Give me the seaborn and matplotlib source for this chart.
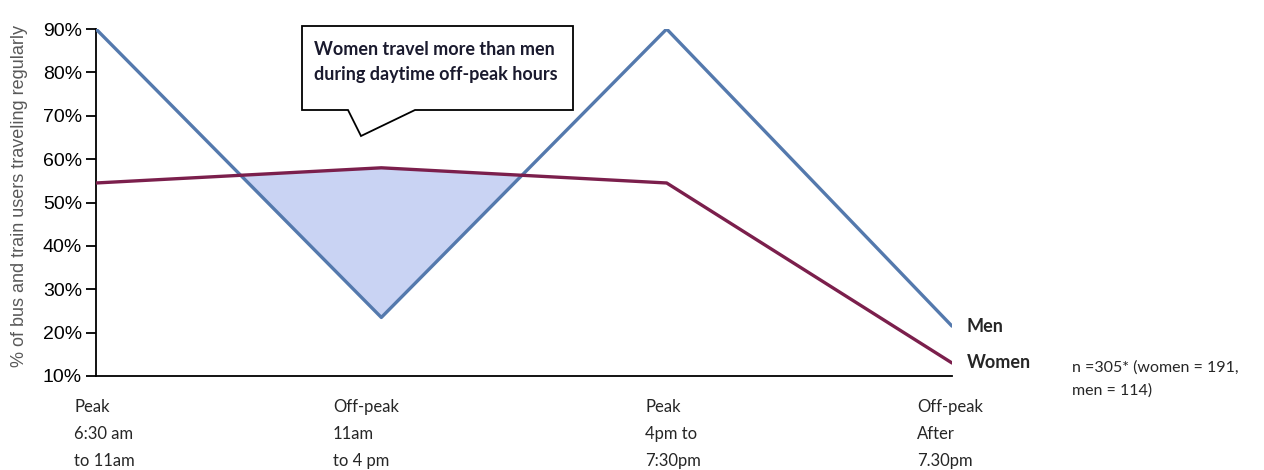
import matplotlib
matplotlib.use("Agg")
import matplotlib.pyplot as plt
import seaborn as sns
import numpy as np
import pandas as pd
from matplotlib.patches import Polygon

# ---- data ----
categories = ["Peak\n6:30 am\nto 11am", "Off-peak\n11am\nto 4 pm",
              "Peak\n4pm to\n7:30pm", "Off-peak\nAfter\n7.30pm"]
men = [0.90, 0.235, 0.90, 0.215]
women = [0.545, 0.58, 0.545, 0.13]
series_names = ["Men", "Women"]
y_ticks = [0.1, 0.2, 0.3, 0.4, 0.5, 0.6, 0.7, 0.8, 0.9]
callout_text = "Women travel more than men\nduring daytime off-peak hours"
note_text = "n =305* (women = 191,\nmen = 114)"
ylabel = "% of bus and train users traveling regularly"

sns.set_theme(style="white")
plt.rcParams['font.family'] = ['Liberation Sans', 'DejaVu Sans']

W, H = 1264, 470
fig = plt.figure(figsize=(W / 100, H / 100), dpi=100)
ax = fig.add_axes([96 / W, 1 - 376 / H, (952 - 96) / W, (376 - 29) / H])

x = np.arange(len(categories))
df = pd.DataFrame({
    "x": np.concatenate([x, x]),
    "value": men + women,
    "series": [series_names[0]] * len(x) + [series_names[1]] * len(x),
})
men_c = "#5479ad"
women_c = "#7b1f4c"

ax.fill_between(x, men, women, where=np.array(women) > np.array(men),
                interpolate=True, color="#c9d3f3", lw=0, zorder=1)
sns.lineplot(data=df, x="x", y="value", hue="series",
             palette={"Men": men_c, "Women": women_c},
             linewidth=2.4, legend=False, ax=ax, zorder=3)

ax.set_xlim(0, 3)
ax.set_ylim(0.1, 0.9)
ax.set_yticks(y_ticks)
ax.set_yticklabels([f"{int(round(v*100))}%" for v in y_ticks], fontsize=14)
ax.set_xticks([])
ax.set_xlabel("")
ax.set_ylabel(ylabel, fontsize=13, color="#595959")
ax.yaxis.set_label_coords(-0.079, 0.52)
for s in ["top", "right"]:
    ax.spines[s].set_visible(False)
for s in ["left", "bottom"]:
    ax.spines[s].set_color("black")
    ax.spines[s].set_linewidth(1.3)
ax.tick_params(axis="y", which="major", left=True, length=7, width=1.3,
               color="black", pad=3, labelcolor="black")

narrow = ['Lato', 'DejaVu Sans']

# category labels
label_left_px = [74, 333, 645, 917]
for lab, px in zip(categories, label_left_px):
    fig.text(px / W, 1 - 399 / H, lab, ha="left", va="top", fontsize=12,
             family=narrow, linespacing=1.85)

# series labels at end
fig.text(967 / W, 1 - 327 / H, "Men", ha="left", va="center", fontsize=13,
         fontweight="bold", family=narrow)
fig.text(967 / W, 1 - 362 / H, "Women", ha="left", va="center", fontsize=13,
         fontweight="bold", family=narrow)
fig.text(1072 / W, 1 - 379 / H, note_text, ha="left", va="center", fontsize=11.5,
         family=narrow, linespacing=1.75)

# callout
pts_px = [(302, 26), (573, 26), (573, 110), (415, 110), (361, 136), (348, 110), (302, 110)]
pts = [(px / W, 1 - py / H) for px, py in pts_px]
poly = Polygon(pts, closed=True, transform=fig.transFigure, facecolor="white",
               edgecolor="black", lw=1.3, zorder=5)
fig.patches.append(poly)
fig.text(314 / W, 1 - 62 / H, callout_text, ha="left", va="center", fontsize=13,
         fontweight="bold", family=narrow, linespacing=1.6, color="#1a1a2e", zorder=6)

fig.savefig("out.png", dpi=100)
